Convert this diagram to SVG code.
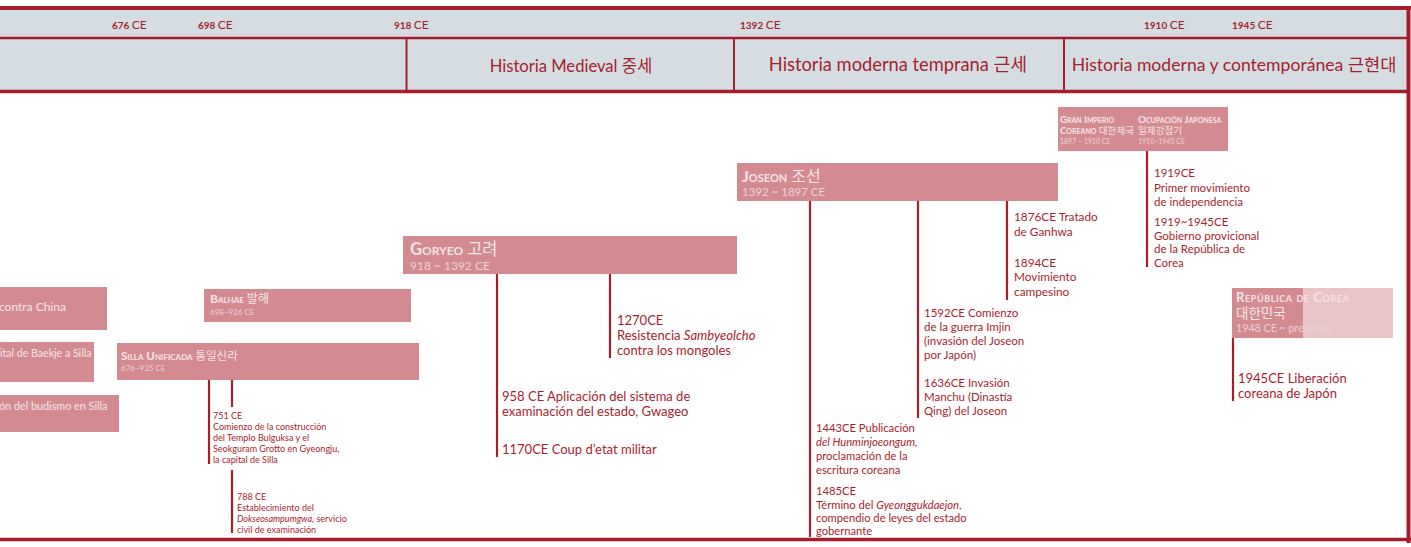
<svg xmlns="http://www.w3.org/2000/svg" width="1411" height="547" viewBox="0 0 1411 547">
<style>
.hdr{fill:#d5dde3}
.rl{stroke:#a61e2e;fill:none}
.box{fill:#d38b91}
.boxl{fill:#e8c4c7}
.yr{font-family:Lato,"Noto Sans","Noto Sans CJK KR",sans-serif;fill:#a61e2e}
.yn{font-size:10px;font-weight:bold}
.yc{font-size:12px}
.per{font-family:Lato,"Noto Sans","Noto Sans CJK KR",sans-serif;fill:#a61e2e;text-anchor:middle}
.bt{font-family:Lato,"Noto Sans","Noto Sans CJK KR",sans-serif;fill:#f3e5e6;font-weight:bold;font-variant:small-caps}
.bd{font-family:Lato,"Noto Sans","Noto Sans CJK KR",sans-serif;fill:#ecd3d5}
.bx{font-family:Lato,"Noto Sans","Noto Sans CJK KR",sans-serif;fill:#f3e5e6}
.ev{font-family:Lato,"Noto Sans","Noto Sans CJK KR",sans-serif;fill:#a61e2e}
.con{stroke:#a61e2e;stroke-width:2.2;fill:none}
.kr{font-weight:normal;font-variant:normal}
</style>
<rect width="1411" height="547" fill="#ffffff"/>
<g id="header">
<rect class="hdr" x="0" y="10" width="1407" height="81"/>
<line class="rl" x1="0" y1="8" x2="1411" y2="8" stroke-width="4"/>
<line class="rl" x1="0" y1="38" x2="1407" y2="38" stroke-width="2.5"/>
<line class="rl" x1="0" y1="91.5" x2="1407" y2="91.5" stroke-width="3.5"/>
<line class="rl" x1="1408.5" y1="6" x2="1408.5" y2="543" stroke-width="4"/>
<line class="rl" x1="0" y1="539.5" x2="1411" y2="539.5" stroke-width="3.5"/>
<line class="rl" x1="406.5" y1="38" x2="406.5" y2="92" stroke-width="2"/>
<line class="rl" x1="734" y1="38" x2="734" y2="92" stroke-width="2"/>
<line class="rl" x1="1064" y1="38" x2="1064" y2="92" stroke-width="2"/>
</g>
<g id="dates">
<text class="yr" x="112" y="29"><tspan class="yn">676 </tspan><tspan class="yc">CE</tspan></text>
<text class="yr" x="198" y="29"><tspan class="yn">698 </tspan><tspan class="yc">CE</tspan></text>
<text class="yr" x="394" y="29"><tspan class="yn">918 </tspan><tspan class="yc">CE</tspan></text>
<text class="yr" x="740" y="29"><tspan class="yn">1392 </tspan><tspan class="yc">CE</tspan></text>
<text class="yr" x="1144" y="29"><tspan class="yn">1910 </tspan><tspan class="yc">CE</tspan></text>
<text class="yr" x="1232" y="29"><tspan class="yn">1945 </tspan><tspan class="yc">CE</tspan></text>
</g>
<g id="periods">
<text class="per" x="571" y="72" font-size="16.6">Historia Medieval 중세</text>
<text class="per" x="898" y="71" font-size="18.3">Historia moderna temprana 근세</text>
<text class="per" x="1234" y="71" font-size="17.6">Historia moderna y contemporánea 근현대</text>
</g>
<g id="connectors">
<line class="con" x1="209" y1="380" x2="209" y2="464"/>
<line class="con" x1="232" y1="380" x2="232" y2="407"/>
<line class="con" x1="232" y1="470" x2="232" y2="533"/>
<line class="con" x1="497" y1="274" x2="497" y2="457"/>
<line class="con" x1="610" y1="274" x2="610" y2="358"/>
<line class="con" x1="810" y1="201" x2="810" y2="537"/>
<line class="con" x1="918" y1="201" x2="918" y2="418"/>
<line class="con" x1="1007" y1="201" x2="1007" y2="300"/>
<line class="con" x1="1147" y1="151" x2="1147" y2="267"/>
<line class="con" x1="1233" y1="338" x2="1233" y2="401"/>
</g>
<g id="china">
<rect class="box" x="0" y="287" width="107" height="43"/>
<text class="bx" x="-1" y="311" font-size="12">contra China</text>
</g>
<g id="baekje">
<rect class="box" x="0" y="342" width="94" height="40"/>
<text class="bx" x="0" y="357" font-size="10.6">ital de Baekje a Silla</text>
</g>
<g id="budismo">
<rect class="box" x="0" y="395" width="119" height="37"/>
<text class="bx" x="-1" y="410" font-size="10.8">ón del budismo en Silla</text>
</g>
<g id="balhae">
<rect class="box" x="204" y="289" width="207" height="33"/>
<text class="bt" x="210" y="303" font-size="12">Balhae <tspan class="kr">발해</tspan></text>
<text class="bd" x="210" y="315" font-size="8">698~926 CE</text>
</g>
<g id="silla">
<rect class="box" x="117" y="343" width="302" height="37"/>
<text class="bt" x="121" y="360" font-size="11.5">Silla Unificada <tspan class="kr">통일신라</tspan></text>
<text class="bd" x="121" y="371" font-size="8">676~935 CE</text>
</g>
<g id="goryeo">
<rect class="box" x="403" y="236" width="334" height="38"/>
<text class="bt" x="410" y="255" font-size="16.5">Goryeo <tspan class="kr">고려</tspan></text>
<text class="bd" x="410" y="270" font-size="12">918 ~ 1392 CE</text>
</g>
<g id="joseon">
<rect class="box" x="737" y="163" width="321" height="38"/>
<text class="bt" x="742" y="182" font-size="16">Joseon <tspan class="kr">조선</tspan></text>
<text class="bd" x="742" y="196" font-size="11.5">1392 ~ 1897 CE</text>
</g>
<g id="imperio">
<rect class="box" x="1058" y="107" width="170" height="44"/>
<text class="bt" x="1060" y="123" font-size="9.6">Gran Imperio</text>
<text class="bt" x="1060" y="134" font-size="9.6">Coreano <tspan class="kr">대한제국</tspan></text>
<text class="bd" x="1060" y="144" font-size="7">1897 ~ 1910 CE</text>
<text class="bt" x="1138" y="123" font-size="9.8">Ocupación Japonesa</text>
<text class="bt" x="1138" y="134" font-size="9.6"><tspan class="kr">일제강점기</tspan></text>
<text class="bd" x="1138" y="144" font-size="7">1910~1945 CE</text>
</g>
<g id="republica">
<rect class="boxl" x="1232" y="288" width="161" height="50"/>
<rect class="box" x="1232" y="288" width="71" height="50"/>
<text class="bt" x="1236" y="302" font-size="13" letter-spacing="0.6">República de Corea</text>
<text class="bx" x="1236" y="318" font-size="13.5">대한민국</text>
<text class="bd" x="1236" y="332" font-size="10.7">1948 CE ~ presente</text>
</g>
<g id="ev751" class="ev" font-size="9">
<text x="213" y="419">751 CE</text>
<text x="213" y="430">Comienzo de la construcción</text>
<text x="213" y="441">del Templo Bulguksa y el</text>
<text x="213" y="452">Seokguram Grotto en Gyeongju,</text>
<text x="213" y="463">la capital de Silla</text>
</g>
<g id="ev788" class="ev" font-size="9">
<text x="237" y="500">788 CE</text>
<text x="237" y="511">Establecimiento del</text>
<text x="237" y="522"><tspan font-style="italic">Dokseosampumgwa</tspan>, servicio</text>
<text x="237" y="533">civil de examinación</text>
</g>
<g id="ev1270" class="ev" font-size="13">
<text x="617" y="325">1270CE</text>
<text x="617" y="340">Resistencia <tspan font-style="italic">Sambyeolcho</tspan></text>
<text x="617" y="355">contra los mongoles</text>
</g>
<g id="ev958" class="ev" font-size="13">
<text x="502" y="401">958 CE Aplicación del sistema de</text>
<text x="502" y="416">examinación del estado, Gwageo</text>
</g>
<g id="ev1170" class="ev" font-size="13">
<text x="502" y="454">1170CE Coup d’etat militar</text>
</g>
<g id="ev1876" class="ev" font-size="11.8">
<text x="1014" y="221">1876CE Tratado</text>
<text x="1014" y="236">de Ganhwa</text>
</g>
<g id="ev1894" class="ev" font-size="11.8">
<text x="1014" y="267">1894CE</text>
<text x="1014" y="281">Movimiento</text>
<text x="1014" y="296">campesino</text>
</g>
<g id="ev1592" class="ev" font-size="11.5">
<text x="924" y="317">1592CE Comienzo</text>
<text x="924" y="331">de la guerra Imjin</text>
<text x="924" y="345">(invasión del Joseon</text>
<text x="924" y="359">por Japón)</text>
</g>
<g id="ev1636" class="ev" font-size="11.5">
<text x="924" y="387">1636CE Invasión</text>
<text x="924" y="401">Manchu (Dinastía</text>
<text x="924" y="415">Qing) del Joseon</text>
</g>
<g id="ev1443" class="ev" font-size="11.2">
<text x="816" y="432">1443CE Publicación</text>
<text x="816" y="446" font-style="italic">del Hunminjoeongum,</text>
<text x="816" y="460">proclamación de la</text>
<text x="816" y="474">escritura coreana</text>
</g>
<g id="ev1485" class="ev" font-size="11.2">
<text x="816" y="495">1485CE</text>
<text x="816" y="509">Término del <tspan font-style="italic">Gyeonggukdaejon</tspan>,</text>
<text x="816" y="522">compendio de leyes del estado</text>
<text x="816" y="535">gobernante</text>
</g>
<g id="ev1919" class="ev" font-size="11.5">
<text x="1154" y="177">1919CE</text>
<text x="1154" y="192">Primer movimiento</text>
<text x="1154" y="206">de independencia</text>
</g>
<g id="ev1919b" class="ev" font-size="11.5">
<text x="1154" y="226">1919~1945CE</text>
<text x="1154" y="240">Gobierno provicional</text>
<text x="1154" y="253">de la República de</text>
<text x="1154" y="267">Corea</text>
</g>
<g id="ev1945" class="ev" font-size="13">
<text x="1238" y="383">1945CE Liberación</text>
<text x="1238" y="398">coreana de Japón</text>
</g>
</svg>
